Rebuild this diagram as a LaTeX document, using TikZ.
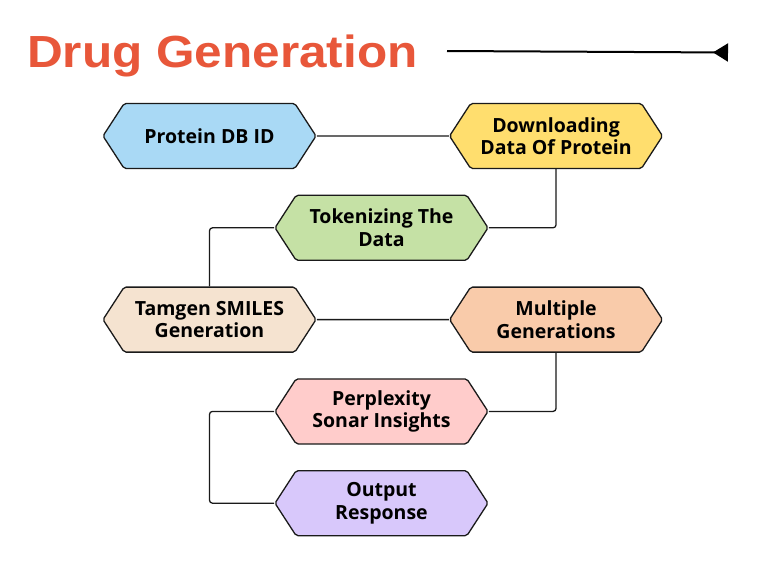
\documentclass[tikz,border=0pt]{standalone}
\usepackage{fontspec}
\setmainfont{Open Sans}
\newfontfamily\titlefont{Liberation Sans}
\usetikzlibrary{positioning,shapes.symbols,arrows.meta}
\definecolor{hexblue}{HTML}{A9D9F5}
\definecolor{hexyellow}{HTML}{FFDE6E}
\definecolor{hexgreen}{HTML}{C5E1A5}
\definecolor{hexbeige}{HTML}{F5E3D0}
\definecolor{hexpeach}{HTML}{F9CBAA}
\definecolor{hexpink}{HTML}{FFCCCB}
\definecolor{hexlilac}{HTML}{D8C8FB}
\definecolor{titleorange}{HTML}{E8573A}
\definecolor{inkline}{HTML}{1A1A1A}

\begin{document}
\begin{tikzpicture}[node distance=25.5pt and 132pt,
    stage/.style={signal,signal to=west and east,signal pointer angle=114,draw=inkline,line width=1.3pt,
      rounded corners=2pt,minimum width=213pt,minimum height=65pt,inner sep=0pt,align=center,
      font=\bfseries\fontsize{19.5}{22.5}\selectfont},
    link/.style={draw=inkline,line width=1.3pt,rounded corners=3pt}]
    \fill[white] (0,0) rectangle (764pt,-573pt);
    \useasboundingbox (0,0) rectangle (764pt,-573pt);
    % title and arrow
    \node[anchor=base west,inner sep=0pt,text=titleorange,font=\titlefont\bfseries\fontsize{45}{45}\selectfont] (ttl) at (27pt,-67pt) {\scalebox{1.1}[1]{Drug Generation}};
    \coordinate (arrL) at (447pt,-51pt);
    \coordinate (arrR) at (728pt,-52.5pt);
    \draw[line width=2pt,-{Triangle[reversed,length=15pt,width=18pt]}] (arrL) -- (arrR);
    % stages
    \node[stage,fill=hexblue] (b1) at (209.5pt,-136pt) {Protein DB ID};
    \node[stage,fill=hexyellow,right=of b1] (b2) {Downloading\\Data Of Protein};
    \node[stage,fill=hexgreen,below=of b1,xshift=172pt] (b3) {Tokenizing The\\Data};
    \node[stage,fill=hexbeige,below=of b3,xshift=-172pt] (b4) {Tamgen SMILES\\Generation};
    \node[stage,fill=hexpeach,right=of b4] (b5) {Multiple\\Generations};
    \node[stage,fill=hexpink,below=of b4,xshift=172pt] (b6) {Perplexity\\Sonar Insights};
    \node[stage,fill=hexlilac,below=of b6] (b7) {Output\\Response};
    % connectors
    \draw[link] (b1) -- (b2);
    \draw[link] (b2.south) |- (b3.east);
    \draw[link] (b3.west) -| (b4.north);
    \draw[link] (b4) -- (b5);
    \draw[link] (b5.south) |- (b6.east);
    \draw[link] (b6.west) -- (b6.west -| b4.south) |- (b7.west);
\end{tikzpicture}
\end{document}
